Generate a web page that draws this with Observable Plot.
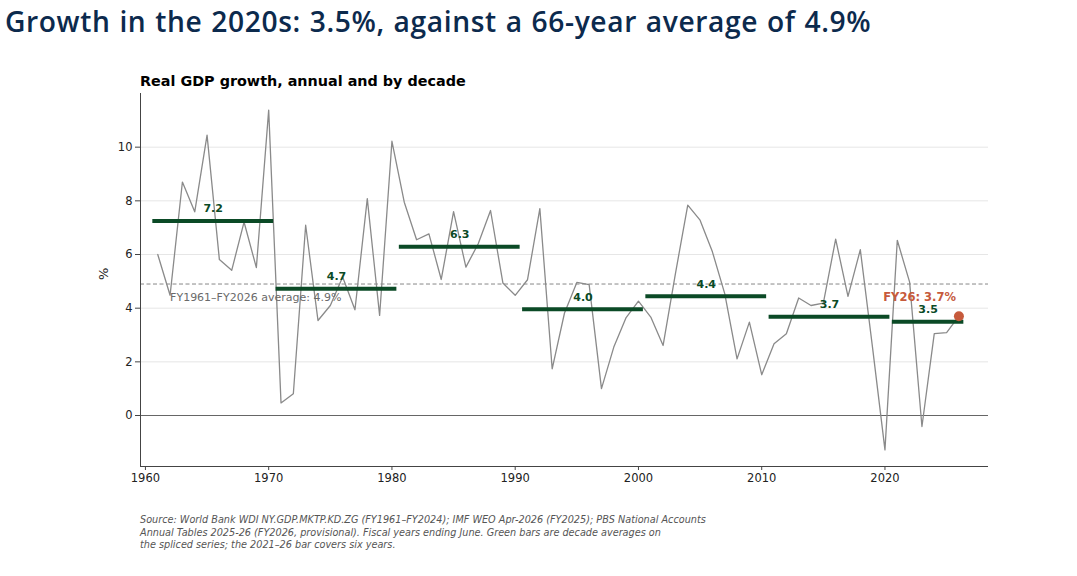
<!DOCTYPE html>
<html>
<head>
<meta charset="utf-8">
<script src="https://cdn.jsdelivr.net/npm/d3@7"></script>
<script src="https://cdn.jsdelivr.net/npm/@observablehq/plot@0.6"></script>
<style>
  html, body { margin: 0; padding: 0; background: #ffffff; }
  body { width: 1077px; height: 576px; position: relative; overflow: hidden; }
  #title { position: absolute; left: 5px; top: 5px; font-family: "Open Sans", sans-serif; font-weight: 600; font-size: 28px; line-height: 1.2; letter-spacing: 0.6px; word-spacing: 1px; color: #0c2a4d; white-space: nowrap; }
  #subtitle { position: absolute; left: 140px; top: 73px; font-family: "DejaVu Sans", sans-serif; font-weight: bold; font-size: 14.5px; line-height: 1.2; color: #000; white-space: nowrap; }
  #chart { position: absolute; left: 0; top: 60px; }
  #caption { position: absolute; left: 140px; top: 514px; font-family: "DejaVu Sans", sans-serif; font-style: italic; font-size: 9.7px; line-height: 12.5px; color: #555; white-space: nowrap; }
</style>
</head>
<body>
<div id="title">Growth in the 2020s: 3.5%, against a 66-year average of 4.9%</div>
<div id="subtitle">Real GDP growth, annual and by decade</div>
<div id="chart"></div>
<div id="caption">Source: World Bank WDI NY.GDP.MKTP.KD.ZG (FY1961–FY2024); IMF WEO Apr-2026 (FY2025); PBS National Accounts<br>Annual Tables 2025-26 (FY2026, provisional). Fiscal years ending June. Green bars are decade averages on<br>the spliced series; the 2021–26 bar covers six years.</div>
<script>
const years = [1961,1962,1963,1964,1965,1966,1967,1968,1969,1970,
  1971,1972,1973,1974,1975,1976,1977,1978,1979,1980,
  1981,1982,1983,1984,1985,1986,1987,1988,1989,1990,
  1991,1992,1993,1994,1995,1996,1997,1998,1999,2000,
  2001,2002,2003,2004,2005,2006,2007,2008,2009,2010,
  2011,2012,2013,2014,2015,2016,2017,2018,2019,2020,
  2021,2022,2023,2024,2025,2026];
const growth = [6.0,4.48,8.7,7.59,10.45,5.81,5.41,7.21,5.51,11.38,
  0.47,0.81,7.09,3.54,4.1,5.16,3.94,8.08,3.73,10.22,
  7.95,6.55,6.77,5.07,7.6,5.53,6.4,7.64,4.94,4.48,
  5.06,7.71,1.74,3.82,4.96,4.88,1.0,2.55,3.65,4.26,
  3.67,2.61,5.29,7.84,7.28,6.1,4.54,2.11,3.48,1.52,
  2.67,3.05,4.38,4.1,4.19,6.57,4.44,6.18,2.5,-1.28,
  6.53,4.97,-0.41,3.05,3.09,3.7];
const decadeStart = [1961,1971,1981,1991,2001,2011,2021];
const decadeEnd   = [1970,1980,1990,2000,2010,2020,2026];
const decadeAvg   = [7.25,4.72,6.29,3.96,4.44,3.68,3.49];
const decadeLabel = ["7.2","4.7","6.3","4.0","4.4","3.7","3.5"];
const overallAvg = 4.9;
const avgLabel = "FY1961–FY2026 average: 4.9%";
const latestYear = 2026, latestValue = 3.7, latestLabel = "FY26: 3.7%";
const xTicks = [1960,1970,1980,1990,2000,2010,2020];
const yTicks = [0,2,4,6,8,10];
const yLabel = "%";

const series = years.map((y, i) => ({year: y, value: growth[i]}));
const decades = decadeStart.map((s, i) => ({start: s, end: decadeEnd[i], value: decadeAvg[i], label: decadeLabel[i]}));

const xDomain = [1959.6, 2028.4];
const yDomain = [-1.9, 12];
const green = "#0b4a26";
const coral = "#c65a3c";

const chart = Plot.plot({
  width: 1077,
  height: 440,
  marginLeft: 140,
  marginRight: 89,
  marginTop: 33,
  marginBottom: 34,
  style: {fontFamily: "DejaVu Sans, sans-serif", fontSize: "11.5px", background: "transparent", color: "#222"},
  x: {domain: xDomain},
  y: {domain: yDomain},
  marks: [
    Plot.ruleY(yTicks.filter(d => d !== 0), {stroke: "#e6e6e6", strokeWidth: 1}),
    Plot.ruleY([0], {stroke: "#666", strokeWidth: 1}),
    Plot.ruleY([overallAvg], {stroke: "#888", strokeWidth: 1, strokeDasharray: "4,2.5"}),
    Plot.line(series, {x: "year", y: "value", stroke: "#8a8a8a", strokeWidth: 1.3}),
    Plot.ruleY(decades, {y: "value", x1: d => d.start - 0.4, x2: d => d.end + 0.4, stroke: green, strokeWidth: 4}),
    Plot.text(decades, {x: d => (d.start + d.end) / 2, y: "value", text: "label", dy: -12, fill: green, fontWeight: "bold", fontSize: 11}),
    Plot.text([avgLabel], {x: 1962, y: overallAvg, text: d => d, dy: 13, textAnchor: "start", fill: "#6a6a6a", fontSize: 11}),
    Plot.text([latestLabel], {x: latestYear, y: latestValue, text: d => d, dx: -3, dy: -19, textAnchor: "end", fill: coral, fontWeight: "bold", fontSize: 11.5}),
    Plot.dot([{year: latestYear, value: latestValue}], {x: "year", y: "value", r: 5, fill: coral, stroke: "none"}),
    Plot.ruleX([xDomain[0]], {y1: yDomain[0], y2: yDomain[1], stroke: "#444", strokeWidth: 1}),
    Plot.ruleY([yDomain[0]], {x1: xDomain[0], x2: xDomain[1], stroke: "#444", strokeWidth: 1}),
    Plot.axisX({ticks: xTicks, tickFormat: d => String(d), tickSize: 4, tickPadding: 3, label: null, stroke: "#444", fontSize: 11.5}),
    Plot.axisY({ticks: yTicks, tickSize: 5, tickPadding: 3, label: null, stroke: "#444", fontSize: 11.5}),
    Plot.text([yLabel], {frameAnchor: "left", text: d => d, rotate: -90, dx: -37, fontSize: 13, fill: "#222"})
  ]
});
document.getElementById("chart").appendChild(chart);

// fit title and subtitle widths to the reference
function fit(id, target) {
  const el = document.getElementById(id);
  const w = el.getBoundingClientRect().width;
  const fs = parseFloat(getComputedStyle(el).fontSize);
  el.style.fontSize = (fs * target / w) + "px";
}
fit("title", 867);
fit("subtitle", 326);
</script>
</body>
</html>
